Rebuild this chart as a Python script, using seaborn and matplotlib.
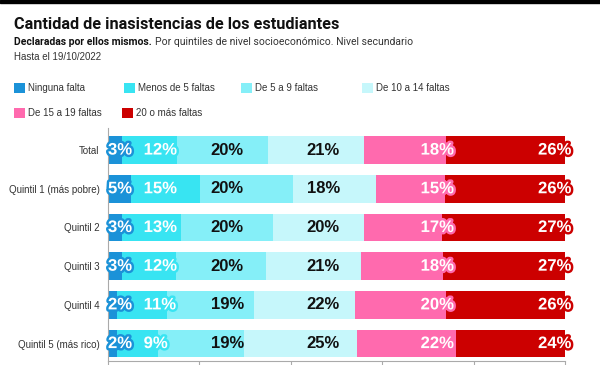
import matplotlib
matplotlib.use("Agg")
import matplotlib.pyplot as plt
import matplotlib.patheffects as pe
from matplotlib.patches import Rectangle
import pandas as pd
import seaborn as sns

groups = ["Total", "Quintil 1 (más pobre)", "Quintil 2", "Quintil 3",
          "Quintil 4", "Quintil 5 (más rico)"]
categories = ["Ninguna falta", "Menos de 5 faltas", "De 5 a 9 faltas",
              "De 10 a 14 faltas", "De 15 a 19 faltas", "20 o más faltas"]
ninguna = [3, 5, 3, 3, 2, 2]
menos_5 = [12, 15, 13, 12, 11, 9]
de_5_a_9 = [20, 20, 20, 20, 19, 19]
de_10_a_14 = [21, 18, 20, 21, 22, 25]
de_15_a_19 = [18, 15, 17, 18, 20, 22]
veinte_o_mas = [26, 26, 27, 27, 26, 24]

colors = ["#1b92d8", "#38e4f2", "#85eff8", "#c6f7fb", "#ff6aae", "#cc0000"]
label_colors = ["white", "white", "#111111", "#111111", "white", "white"]
label_x = [0.0, 7.8, 22.5, 43.5, 68.4, 94.1]

narrow = "Liberation Sans"

df = pd.DataFrame(
    dict(zip(categories, [ninguna, menos_5, de_5_a_9, de_10_a_14,
                          de_15_a_19, veinte_o_mas])),
    index=groups,
)
# los valores redondeados no siempre suman 100: se reparte cada fila sobre 100
share = df.div(df.sum(axis=1), axis=0) * 100
cum = share.cumsum(axis=1)

sns.set_style("white")
fig = plt.figure(figsize=(6, 3.65), dpi=100)
ax = fig.add_axes([108 / 600, 1 - 361 / 365, 457 / 600, 233 / 365])

for cat, color in reversed(list(zip(categories, colors))):
    sns.barplot(x=cum[cat].values, y=groups, color=color, saturation=1,
                width=0.71, linewidth=0, orient="h", errorbar=None,
                label=cat, ax=ax)
ax.legend_.remove()

for i, g in enumerate(groups):
    for j, cat in enumerate(categories):
        effects = None
        if label_colors[j] == "white":
            effects = [pe.withStroke(linewidth=3.5, foreground=colors[j])]
        ax.text(label_x[j], i, f"{df.loc[g, cat]}%", ha="left", va="center",
                fontsize=12, fontweight="bold", family="Liberation Sans",
                color=label_colors[j], path_effects=effects)

ax.set_xlim(0, 100)
ax.set_ylim(5.45, -0.57)
ax.set_xticks(range(0, 101, 20))
ax.set_xticklabels([])
ax.set_xlabel("")
ax.set_ylabel("")
ax.tick_params(axis="x", length=4, width=0.8, color="#aaaaaa", bottom=True)
ax.tick_params(axis="y", length=0, pad=6, labelsize=7, labelcolor="#333333")
for t in ax.get_yticklabels():
    t.set_family(narrow)
for side in ["top", "right"]:
    ax.spines[side].set_visible(False)
for side in ["left", "bottom"]:
    ax.spines[side].set_color("#aaaaaa")
    ax.spines[side].set_linewidth(0.8)

# franja negra superior de la captura
fig.add_artist(Rectangle((0, 1 - 3 / 365), 1, 3 / 365,
                         transform=fig.transFigure, color="black"))

fig.text(14 / 600, 1 - 29 / 365, "Cantidad de inasistencias de los estudiantes",
         fontsize=11.7, fontweight="bold", family="Roboto", va="baseline",
         color="#111111")
sub = fig.text(14 / 600, 1 - 45 / 365, "Declaradas por ellos mismos.",
               fontsize=7.5, fontweight="bold", family="Roboto", va="baseline",
               color="#111111")
renderer = fig.canvas.get_renderer()
bb = sub.get_window_extent(renderer).transformed(fig.transFigure.inverted())
fig.text(bb.x1 + 3 / 600, 1 - 45 / 365,
         "Por quintiles de nivel socioeconómico. Nivel secundario",
         fontsize=7.5, family="Roboto", va="baseline", color="#333333")
fig.text(14 / 600, 1 - 60 / 365, "Hasta el 19/10/2022", fontsize=7,
         family=narrow, va="baseline", color="#333333")

# leyenda en dos filas como en el original
legend_pos = [(14, 88), (124, 88), (241, 88), (362, 88), (14, 113), (122, 113)]
for (px, py), cat, color in zip(legend_pos, categories, colors):
    fig.add_artist(Rectangle((px / 600, 1 - (py + 5) / 365), 11 / 600, 10 / 365,
                             transform=fig.transFigure, color=color, lw=0))
    fig.text((px + 14) / 600, 1 - py / 365, cat, fontsize=7, family=narrow,
             va="center", color="#333333")

fig.savefig("out.png", dpi=100)
